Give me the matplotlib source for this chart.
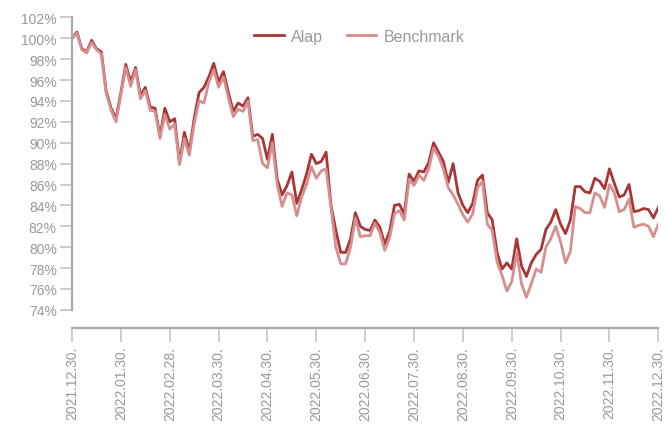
import matplotlib
matplotlib.use("Agg")
import matplotlib.pyplot as plt

plt.rcParams["font.family"] = ["Liberation Sans", "DejaVu Sans"]

tick_labels = ["2021.12.30.", "2022.01.30.", "2022.02.28.", "2022.03.30.",
               "2022.04.30.", "2022.05.30.", "2022.06.30.", "2022.07.30.",
               "2022.08.30.", "2022.09.30.", "2022.10.30.", "2022.11.30.",
               "2022.12.30."]

# net value in %, sampled evenly between the month ticks (10 samples per tick)
alap = [100.0, 100.6, 99.0, 98.7, 99.8, 99.0, 98.7, 94.9, 93.3, 92.3,
        94.8, 97.5, 95.8, 97.2, 94.5, 95.3, 93.4, 93.3, 90.6, 93.3,
        92.0, 92.3, 88.1, 91.0, 89.2, 92.3, 94.8, 95.3, 96.3, 97.6,
        95.8, 96.8, 94.8, 93.0, 93.8, 93.5, 94.3, 90.6, 90.8, 90.4,
        88.4, 90.8, 86.5, 85.0, 85.9, 87.2, 84.2, 85.5, 87.0, 88.9,
        88.0, 88.2, 89.1, 84.0, 81.6, 79.5, 79.5, 80.8, 83.3, 82.0,
        81.7, 81.6, 82.6, 81.9, 80.3, 81.5, 84.0, 84.1, 83.2, 87.0,
        86.3, 87.3, 87.2, 88.1, 90.0, 89.1, 88.2, 86.2, 88.0, 85.2,
        84.0, 83.3, 84.2, 86.4, 86.9, 83.3, 82.6, 79.5, 77.9, 78.5,
        77.9, 80.8, 78.2, 77.2, 78.5, 79.3, 79.8, 81.7, 82.4, 83.6,
        82.2, 81.3, 82.6, 85.8, 85.8, 85.3, 85.2, 86.6, 86.3, 85.6,
        87.5, 86.1, 84.8, 85.0, 86.0, 83.4, 83.5, 83.7, 83.6, 82.8,
        83.8]

benchmark = [100.0, 100.5, 98.9, 98.6, 99.6, 98.9, 98.5, 94.7, 93.1, 92.0,
             94.6, 97.2, 95.4, 97.0, 94.2, 95.0, 93.1, 93.0, 90.4, 92.7,
             91.3, 91.8, 87.9, 90.4, 88.8, 91.8, 94.0, 93.8, 95.8, 97.0,
             95.3, 96.3, 94.3, 92.5, 93.2, 93.0, 94.0, 90.2, 90.3, 88.0,
             87.6, 90.0, 86.0, 83.9, 85.2, 85.0, 83.0, 84.8, 86.0, 87.7,
             86.6, 87.3, 87.5, 83.8, 80.0, 78.4, 78.4, 80.0, 82.8, 81.0,
             81.1, 81.1, 82.3, 81.4, 79.7, 80.9, 83.2, 83.5, 82.6, 86.5,
             85.9, 86.9, 86.4, 87.5, 89.5, 88.7, 87.5, 85.7, 85.0, 84.1,
             83.1, 82.4, 83.2, 85.7, 86.3, 82.2, 81.6, 78.6, 77.3, 75.8,
             76.7, 79.5, 76.5, 75.2, 76.5, 77.9, 77.6, 80.0, 80.8, 82.0,
             80.5, 78.5, 79.6, 83.9, 83.7, 83.3, 83.3, 85.2, 84.9, 83.8,
             86.0, 85.2, 83.4, 83.6, 84.6, 81.9, 82.1, 82.2, 82.0, 81.0,
             82.2]

yticks = list(range(74, 103, 2))
x = list(range(len(alap)))
step = (len(alap) - 1) // (len(tick_labels) - 1)

fig = plt.figure(figsize=(6.67, 4.27), dpi=100)
ax = fig.add_axes([0.108, 0.272, 0.879, 0.685])

ax.plot(x, alap, color="#a93535", lw=2.0, label="Alap")
ax.plot(x, benchmark, color="#d68e8e", lw=2.0, label="Benchmark")

ax.set_xlim(0, len(alap) - 1)
ax.set_ylim(74, 102)
ax.set_yticks(yticks)
ax.set_yticklabels([f"{v}%" for v in yticks])
ax.set_xticks(x[::step])
ax.set_xticklabels(tick_labels)

for s in ["top", "right"]:
    ax.spines[s].set_visible(False)
for s in ["left", "bottom"]:
    ax.spines[s].set_color("#aaaaaa")
    ax.spines[s].set_linewidth(1.6)
ax.spines["bottom"].set_position(("outward", 13))

ax.tick_params(axis="y", colors="#cccccc", labelcolor="#999999", length=9,
               width=1.4, pad=2, labelsize=10)
ax.tick_params(axis="x", colors="#cccccc", labelcolor="#999999", length=10,
               width=1.4, pad=3, labelsize=10, labelrotation=90)

leg = ax.legend(loc="upper center", bbox_to_anchor=(0.49, 1.01), ncol=2,
                frameon=False, fontsize=11.5, handlelength=1.85,
                handletextpad=0.45, columnspacing=1.5)
for t in leg.get_texts():
    t.set_color("#999999")

fig.savefig("out.png", dpi=100)
